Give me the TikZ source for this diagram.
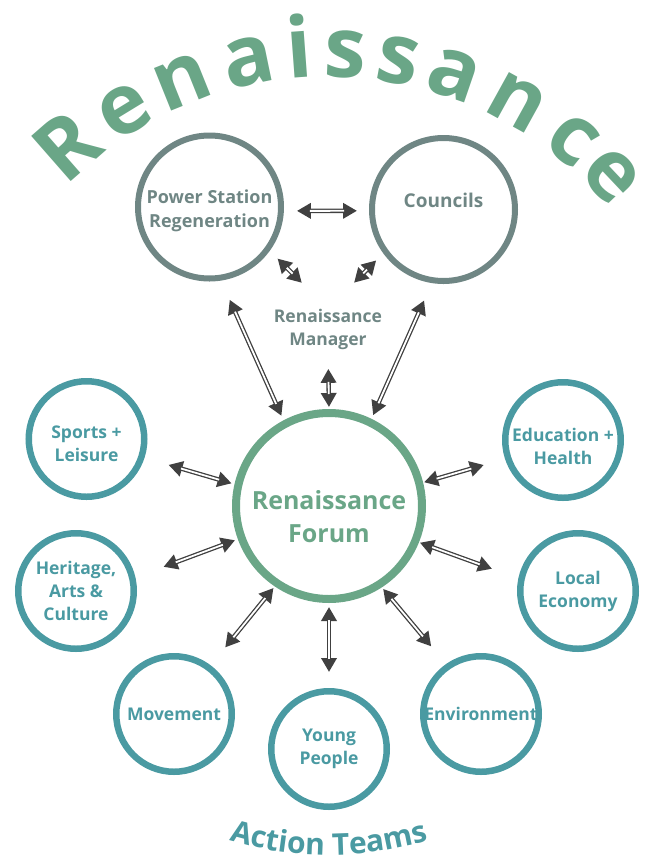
\documentclass[tikz,border=0pt]{standalone}
\usepackage{fontspec}
\setmainfont{Open Sans}
\usetikzlibrary{arrows.meta,decorations.text}
\definecolor{slate}{HTML}{6F8684}
\definecolor{sage}{HTML}{6AA687}
\definecolor{teamcol}{HTML}{4A9AA2}
\definecolor{linkcol}{HTML}{404040}

\begin{document}
\begin{tikzpicture}[x=1pt, y=1pt,
  ring/.style={circle, draw=slate, line width=6pt, minimum size=143pt, inner sep=0pt,
    text=slate, font=\bfseries\fontsize{19}{24}\selectfont, align=center},
  hub/.style={circle, draw=sage, line width=8pt, minimum size=186pt, inner sep=0pt,
    text=sage, font=\bfseries\fontsize{25}{33}\selectfont, align=center},
  team/.style={circle, draw=teamcol, line width=6.5pt, minimum size=115.5pt, inner sep=0pt,
    text=teamcol, font=\bfseries\fontsize{17.5}{23}\selectfont, align=center},
  link/.style 2 args={draw=linkcol, line width=4.4pt, shorten <=#1, shorten >=#2,
    {Triangle[length=14pt,width=15pt]}-{Triangle[length=14pt,width=15pt]},
    postaction={draw=white, line width=1.8pt, -, shorten <=#1+13pt, shorten >=#2+13pt}},
  titlech/.style={text=sage, font=\bfseries\fontsize{84}{84}\selectfont, anchor=base, inner sep=0pt}]
  \useasboundingbox (0,0) rectangle (648,-863);
  \coordinate (crown) at (328,-444);
  \foreach \ch/\ang [count=\i] in {R/131.2, e/121.4, n/111.9, a/101.7, i/94.2, s/87.5, s/79.6, a/71.1, n/61.1, c/51.2, e/43.4}
    \node[titlech, rotate=\ang-90] (t\i) at ([shift={(\ang:367)}]crown) {\ch};

  \node[ring, font=\bfseries\fontsize{18}{24}\selectfont, text height=46pt] (ps) at (209.5,-207) {Power Station\\Regeneration};
  \node[ring, text depth=19pt] (cn) at (443.5,-209.5) {Councils};
  \node[text=slate, font=\bfseries\fontsize{17.5}{23}\selectfont, align=center, inner sep=0pt] (mgr) at (328,-329.4) {Renaissance\\Manager};
  \node[hub, text height=74pt] (forum) at (329,-506) {Renaissance\\Forum};

  \node[team, text height=46pt] (sport) at (86.5,-439) {Sports +\\Leisure};
  \node[team] (herit) at (76,-591) {Heritage,\\Arts \&\\Culture};
  \node[team] (move) at (174,-714) {Movement};
  \node[team] (young) at (329,-749) {Young\\People};
  \node[team] (env) at (481,-714) {Environment};
  \node[team] (econ) at (578,-591) {Local\\Economy};
  \node[team, text height=50pt] (edu) at (563,-440) {Education +\\Health};

  \draw [link={13pt}{12pt}] (ps.-3) to (cn.181);
  \draw [link={11pt}{37pt}] (ps.-36) to (mgr.north);
  \draw [link={10pt}{37pt}] (cn.216) to (mgr.north);
  \draw [link={21pt}{5pt}] (ps.-81) to (forum.118);
  \draw [link={19pt}{4pt}] (cn.261) to (forum.64);
  \draw [link={19pt}{2pt}] (mgr.south) to (forum.north);
  \draw [link={3pt}{25pt}] (forum.167) to (sport.-18);
  \draw [link={3pt}{30pt}] (forum.200) to (herit.13);
  \draw [link={2pt}{23pt}] (forum.236) to (move.53);
  \draw [link={4pt}{16pt}] (forum.south) to (young.north);
  \draw [link={2pt}{23pt}] (forum.-57) to (env.125);
  \draw [link={1pt}{28pt}] (forum.-22) to (econ.168);
  \draw [link={1pt}{22pt}] (forum.14) to (edu.198);

  \path [decorate, decoration={text along path, text color=teamcol, text align=center,
    text={|\bfseries\fontsize{30}{30}\selectfont|Action Teams}}]
    ([shift={(235:349)}]forum.center) arc[start angle=235, end angle=305, radius=349];
\end{tikzpicture}
\end{document}
